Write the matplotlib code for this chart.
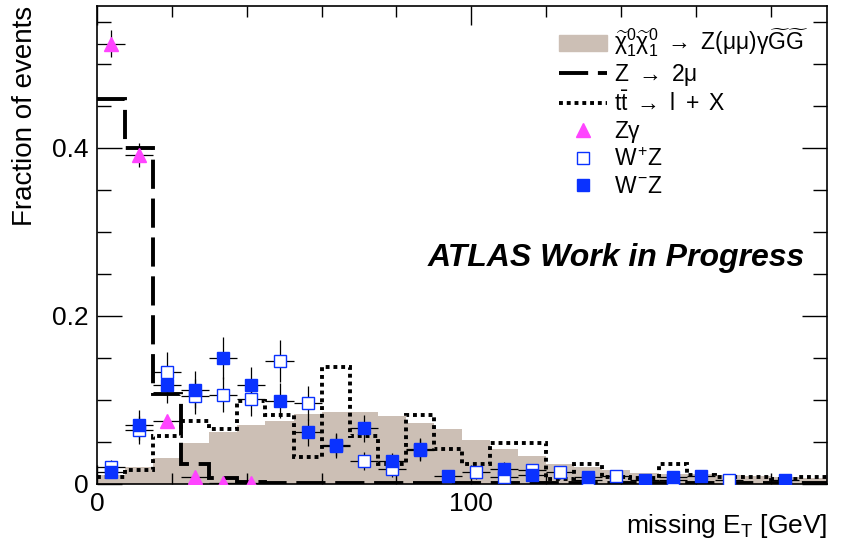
import numpy as np
import matplotlib
matplotlib.use("Agg")
import matplotlib.pyplot as plt
from matplotlib.patches import Patch
from matplotlib.lines import Line2D
from matplotlib.ticker import MultipleLocator

plt.rcParams['font.family'] = ['Liberation Sans', 'DejaVu Sans']
plt.rcParams['mathtext.fontset'] = 'custom'
plt.rcParams['mathtext.rm'] = 'Liberation Sans'
plt.rcParams['mathtext.it'] = 'Liberation Sans'
plt.rcParams['mathtext.bf'] = 'Liberation Sans:bold'

# ---- data ----
bin_width = 7.5
edges = np.arange(0, 195.01, bin_width)          # 26 bins, 0..195 GeV
centers = edges[:-1] + bin_width / 2

signal = [0.010, 0.020, 0.031, 0.049, 0.062, 0.070, 0.075, 0.083, 0.0857, 0.0857,
          0.0806, 0.0726, 0.0647, 0.052, 0.041, 0.033, 0.024, 0.020, 0.016, 0.013,
          0.012, 0.011, 0.010, 0.009, 0.008, 0.007]
zmumu = [0.458, 0.400, 0.107, 0.024, 0.007, 0.002, 0.0005, 0.0005, 0.0005, 0.0005,
         0.0005, 0.0005, 0.0005, 0.0005, 0.0005, 0.0005, 0.0005, 0.0005, 0.0005, 0.0005,
         0.0005, 0.0005, 0.0005, 0.0005, 0.0005, 0.0005]
ttbar = [0.008, 0.016, 0.057, 0.075, 0.065, 0.099, 0.082, 0.032, 0.139, 0.057,
         0.024, 0.082, 0.041, 0.024, 0.049, 0.049, 0.006, 0.024, 0.008, 0.007,
         0.024, 0.010, 0.008, 0.008, 0.006, 0.008]

zgamma_bins = [0, 1, 2, 3, 4, 5]
zgamma = [0.524, 0.391, 0.075, 0.008, 0.001, 0.001]
zgamma_err = [0.016, 0.014, 0.006, 0.003, 0.002, 0.002]

wpz_bins = [0, 1, 2, 3, 4, 5, 6, 7, 8, 9, 10, 11, 13, 14, 15, 16, 17, 18, 20, 22]
wpz = [0.020, 0.064, 0.133, 0.104, 0.106, 0.101, 0.146, 0.096, 0.045, 0.027,
       0.017, 0.040, 0.0136, 0.008, 0.016, 0.0136, 0.004, 0.009, 0.004, 0.004]
wpz_err = [0.008, 0.017, 0.024, 0.021, 0.021, 0.021, 0.025, 0.020, 0.014, 0.011,
           0.009, 0.013, 0.008, 0.006, 0.008, 0.008, 0.004, 0.006, 0.004, 0.004]

wmz_bins = [0, 1, 2, 3, 4, 5, 6, 7, 8, 9, 10, 11, 12, 14, 15, 17, 19, 20, 21, 24]
wmz = [0.014, 0.070, 0.1175, 0.112, 0.150, 0.1175, 0.099, 0.061, 0.0465, 0.066,
       0.027, 0.041, 0.009, 0.018, 0.010, 0.008, 0.004, 0.008, 0.0095, 0.004]
wmz_err = [0.007, 0.018, 0.022, 0.022, 0.025, 0.022, 0.021, 0.016, 0.014, 0.016,
           0.010, 0.013, 0.006, 0.008, 0.006, 0.006, 0.004, 0.006, 0.006, 0.004]

tan = '#CCBFB5'
blue = '#0A32FF'
magenta = '#FF44FF'

# ---- figure ----
fig = plt.figure(figsize=(8.42, 5.49), dpi=100)
ax = fig.add_axes([97/842, (549-483.7)/549, (827-97)/842, (483.7-5.7)/549])

ax.stairs(signal, edges, fill=True, color=tan, zorder=1)
ax.stairs(zmumu, edges, baseline=None, color='black', lw=2.8,
          linestyle=(0, (7.5, 2.5)), zorder=3)
ax.stairs(ttbar, edges, baseline=None, color='black', lw=2.8,
          linestyle=(0, (1, 1)), zorder=3)

ebkw = dict(ecolor='black', elinewidth=0.9, capsize=0, ls='none', zorder=4)
ax.errorbar(centers[zgamma_bins], zgamma, xerr=bin_width/2, yerr=zgamma_err,
            fmt='^', ms=10, mfc=magenta, mec=magenta, **ebkw)
ax.errorbar(centers[wpz_bins], wpz, xerr=bin_width/2, yerr=wpz_err,
            fmt='s', ms=9, mfc='white', mec=blue, mew=1.0, **ebkw)
ax.errorbar(centers[wmz_bins], wmz, xerr=bin_width/2, yerr=wmz_err,
            fmt='s', ms=9, mfc=blue, mec=blue, **ebkw)

ax.set_xlim(0, 195)
ax.set_ylim(0, 0.569)
ax.xaxis.set_major_locator(MultipleLocator(100))
ax.xaxis.set_minor_locator(MultipleLocator(20))
ax.yaxis.set_major_locator(MultipleLocator(0.2))
ax.yaxis.set_minor_locator(MultipleLocator(0.05))
ax.yaxis.set_major_formatter(matplotlib.ticker.FuncFormatter(lambda v, p: '0' if v == 0 else f'{v:.1f}'))
ax.tick_params(axis='both', which='both', direction='in', top=True, right=True,
               labelsize=19, width=1.0, pad=6)
ax.tick_params(axis='y', which='major', length=18)
ax.tick_params(axis='y', which='minor', length=10)
ax.tick_params(axis='x', which='major', length=14)
ax.tick_params(axis='x', which='minor', length=8)
for s in ax.spines.values():
    s.set_linewidth(1.2)

ax.set_ylabel('Fraction of events', fontsize=20, loc='top', labelpad=10)
ax.set_xlabel(r'missing E$_{\mathrm{T}}$ [GeV]', fontsize=19, loc='right', labelpad=-3)

ax.text(0.97, 0.472, 'ATLAS Work in Progress', transform=ax.transAxes,
        ha='right', va='center', fontsize=23, fontweight='bold', fontstyle='italic')

handles = [
    Patch(facecolor=tan, edgecolor=tan),
    Line2D([], [], color='black', lw=2.8, linestyle=(0, (7.5, 2.5))),
    Line2D([], [], color='black', lw=2.8, linestyle=(0, (1, 1))),
    Line2D([], [], color=magenta, marker='^', ls='none', ms=10),
    Line2D([], [], color=blue, marker='s', ls='none', ms=9, mfc='white'),
    Line2D([], [], color=blue, marker='s', ls='none', ms=9),
]
labels = [
    r'$\widetilde{\chi}^{0}_{1}\widetilde{\chi}^{0}_{1}\ \rightarrow\ Z(\mu\mu)\gamma\widetilde{G}\widetilde{G}$',
    r'$Z\ \rightarrow\ 2\mu$',
    r'$t\bar{t}\ \rightarrow\ l\ +\ X$',
    r'$Z\gamma$',
    r'$W^{+}Z$',
    r'$W^{-}Z$',
]
ax.legend(handles, labels, loc='upper left', bbox_to_anchor=(0.62, 0.975),
          frameon=False, fontsize=16.5, handlelength=2.1, handletextpad=0.3,
          labelspacing=0.14, borderaxespad=0)

fig.savefig('out.png', dpi=100)
